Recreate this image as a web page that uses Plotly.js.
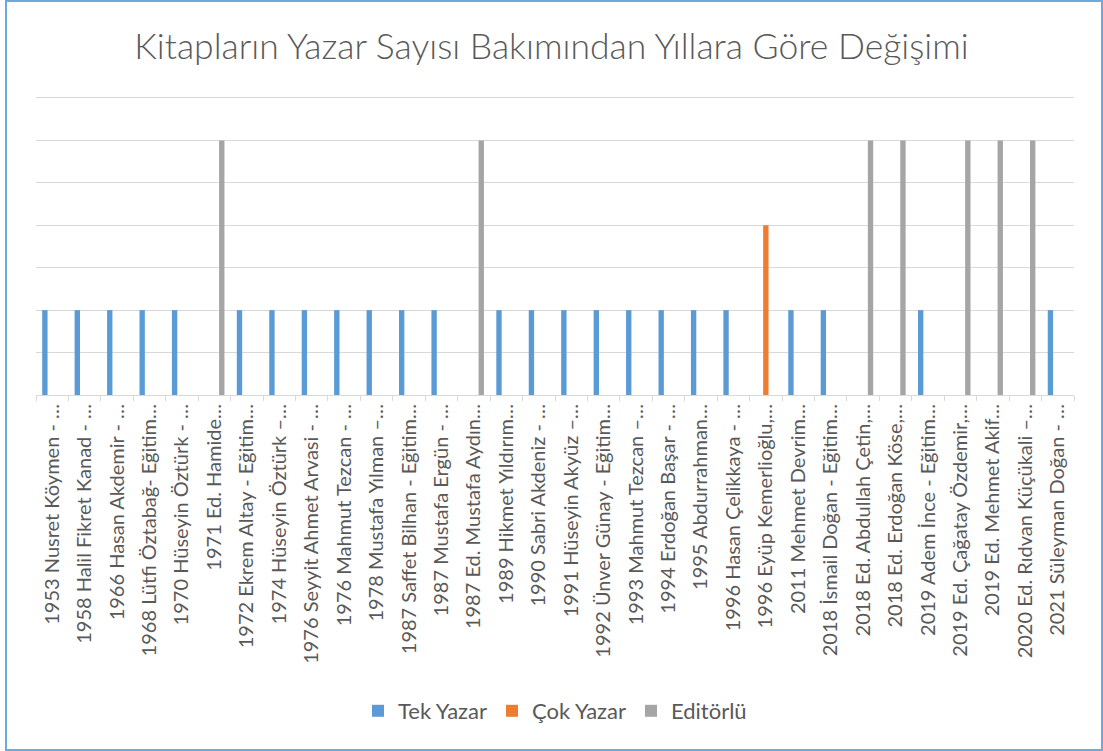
<!DOCTYPE html>
<html>
<head>
<meta charset="utf-8">
<script src="https://cdn.plot.ly/plotly-3.0.1.min.js"></script>
<style>
  html, body { margin: 0; padding: 0; background: #ffffff; }
  #wrap { position: relative; width: 1103px; height: 751px; }
  #chart { width: 1103px; height: 751px; }
  #frame { position: absolute; left: 5px; top: 0px; width: 1094px; height: 747px;
           border: 2px solid #6FA8DC; pointer-events: none; }
</style>
</head>
<body>
<div id="wrap">
  <div id="chart"></div>
  <div id="frame"></div>
</div>
<script>
const categories = [
  "1953 Nusret Köymen - …",
  "1958 Halil Fikret Kanad - …",
  "1966 Hasan Akdemir - …",
  "1968 Lütfi Öztabağ- Eğitim…",
  "1970 Hüseyin Öztürk - …",
  "1971 Ed. Hamide…",
  "1972 Ekrem Altay - Eğitim…",
  "1974 Hüseyin Öztürk –…",
  "1976 Seyyit Ahmet Arvasi - …",
  "1976 Mahmut Tezcan - …",
  "1978 Mustafa Yılman –…",
  "1987 Saffet Bilhan - Eğitim…",
  "1987 Mustafa Ergün - …",
  "1987 Ed. Mustafa Aydın…",
  "1989 Hikmet Yıldırım…",
  "1990 Sabri Akdeniz - …",
  "1991 Hüseyin Akyüz –…",
  "1992 Ünver Günay - Eğitim…",
  "1993 Mahmut Tezcan –…",
  "1994 Erdoğan Başar - …",
  "1995 Abdurrahman…",
  "1996 Hasan Çelikkaya - …",
  "1996 Eyüp Kemerlioğlu,…",
  "2011 Mehmet Devrim…",
  "2018 İsmail Doğan - Eğitim…",
  "2018 Ed. Abdullah Çetin,…",
  "2018 Ed. Erdoğan Köse,…",
  "2019 Adem İnce - Eğitim…",
  "2019 Ed. Çağatay Özdemir,…",
  "2019 Ed. Mehmet Akif…",
  "2020 Ed. Rıdvan Küçükali –…",
  "2021 Süleyman Doğan - …"
];

const tekYazar = [1,1,1,1,1,null,1,1,1,1,1,1,1,null,1,1,1,1,1,1,1,1,null,1,1,null,null,1,null,null,null,1];
const cokYazar = [null,null,null,null,null,null,null,null,null,null,null,null,null,null,null,null,null,null,null,null,null,null,2,null,null,null,null,null,null,null,null,null];
const editorlu = [null,null,null,null,null,3,null,null,null,null,null,null,null,3,null,null,null,null,null,null,null,null,null,null,null,3,3,null,3,3,3,null];

const seriesNames = ["Tek Yazar", "Çok Yazar", "Editörlü"];
const seriesColors = ["#5B9BD5", "#ED7D31", "#A5A5A5"];
const seriesValues = [tekYazar, cokYazar, editorlu];

const FONT = "Lato, 'Open Sans', sans-serif";
const TXT = "#595959";

const traces = seriesValues.map((vals, i) => ({
  type: "bar",
  name: seriesNames[i],
  x: categories,
  y: vals,
  marker: { color: seriesColors[i], line: { width: 0 } },
  hoverinfo: "x+y+name"
}));

const layout = {
  width: 1103,
  height: 751,
  paper_bgcolor: "#ffffff",
  plot_bgcolor: "#ffffff",
  margin: { l: 36, r: 29, t: 98, b: 356, pad: 0 },
  barmode: "group",
  bargap: 0.32,
  bargroupgap: 0.27,
  title: {
    text: "Kitapların Yazar Sayısı Bakımından Yıllara Göre Değişimi",
    font: { family: FONT, size: 35.5, color: TXT, weight: 300 },
    x: 0.5, xanchor: "center",
    y: 1 - 47 / 751, yanchor: "middle", yref: "container"
  },
  xaxis: {
    type: "category",
    tickangle: -90,
    tickfont: { family: FONT, size: 20, color: TXT },
    showline: true, linecolor: "#d9d9d9", linewidth: 1, mirror: true,
    ticks: "outside", tickson: "boundaries", ticklen: 5, tickcolor: "#d9d9d9", tickwidth: 1,
    showgrid: false,
    automargin: false
  },
  yaxis: {
    range: [0, 3.5],
    dtick: 0.5,
    tick0: 0,
    showticklabels: false,
    showgrid: true, gridcolor: "#d9d9d9", gridwidth: 1,
    zeroline: false,
    showline: false,
    ticks: ""
  },
  legend: {
    orientation: "h",
    x: 0.5, xanchor: "center",
    y: (395 - 711) / 297, yanchor: "middle",
    font: { family: FONT, size: 22, color: TXT },
    itemwidth: 30,
    traceorder: "normal"
  },
  showlegend: true
};

Plotly.newPlot("chart", traces, layout, { displayModeBar: false, responsive: false });
</script>
</body>
</html>
